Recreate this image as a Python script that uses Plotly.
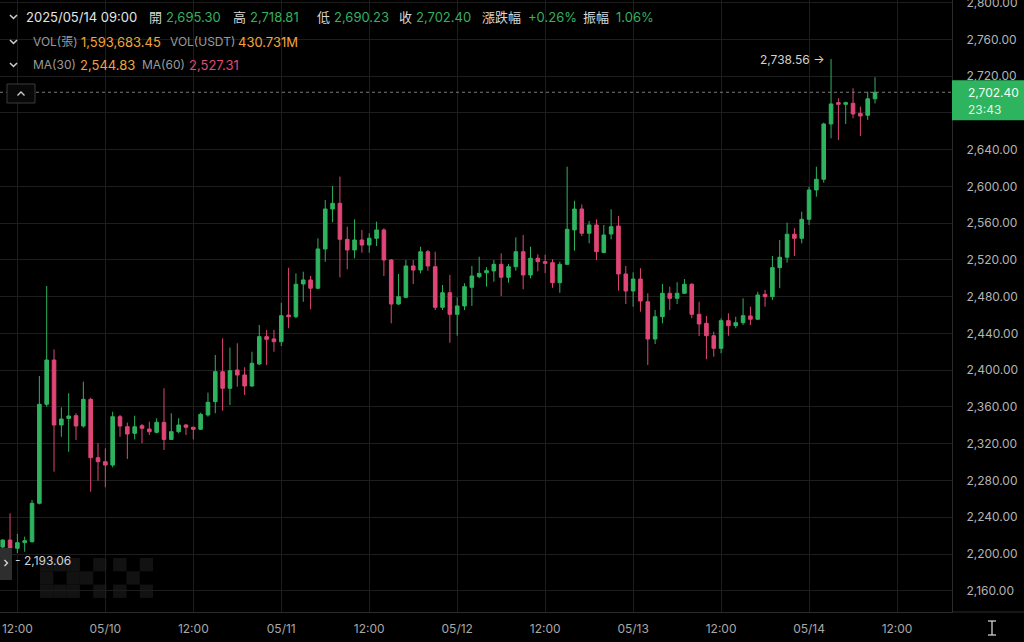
import plotly.graph_objects as go
import pandas as pd

# ---------------- data (ETH/USDT 1H) ----------------
start_time = "2025-05-09 10:00"
opens = [2207.6, 2215.2, 2206.2, 2212.3, 2213.4, 2255.2, 2362.9, 2411.1, 2340.4, 2347.5,
         2350.5, 2339.3, 2368.3, 2304.8, 2300.4, 2296.8, 2349.4, 2338.5, 2331.3, 2339.6,
         2336.0, 2332.4, 2343.3, 2324.7, 2333.1, 2340.4, 2337.9, 2335.7, 2351.3, 2365.8,
         2398.4, 2380.3, 2400.2, 2394.8, 2382.8, 2406.7, 2436.5, 2434.0, 2431.0, 2460.0,
         2458.2, 2493.8, 2498.2, 2489.2, 2531.9, 2575.4, 2581.6, 2542.4, 2530.8, 2541.7,
         2536.2, 2543.5, 2552.6, 2519.9, 2472.0, 2479.3, 2513.4, 2509.0, 2528.9, 2512.6,
         2468.4, 2484.3, 2460.8, 2469.9, 2490.2, 2501.8, 2506.0, 2508.0, 2515.2, 2501.1,
         2512.6, 2528.9, 2503.6, 2521.8, 2518.1, 2517.0, 2495.2, 2515.2, 2552.6, 2575.4,
         2549.0, 2558.0, 2528.0, 2548.2, 2556.9, 2504.7, 2486.2, 2499.2, 2474.5, 2433.9,
         2458.2, 2483.7, 2478.2, 2483.7, 2493.5, 2460.8, 2451.0, 2437.5, 2423.8, 2453.9,
         2448.4, 2451.7, 2459.0, 2455.4, 2482.5, 2480.0, 2511.6, 2522.9, 2547.9, 2543.5,
         2564.2, 2596.1, 2607.7, 2667.9, 2691.1, 2689.3, 2690.4, 2679.5, 2677.4, 2695.30]
highs = [2216.0, 2244.3, 2221.8, 2218.9, 2258.8, 2393.7, 2491.6, 2422.7, 2359.6, 2374.9,
         2353.1, 2387.5, 2370.0, 2320.5, 2315.0, 2354.8, 2351.3, 2343.0, 2350.5, 2341.5,
         2344.0, 2347.7, 2380.3, 2353.1, 2347.7, 2341.5, 2338.5, 2353.8, 2375.6, 2416.5,
         2434.7, 2424.6, 2429.3, 2403.2, 2420.1, 2449.2, 2443.7, 2443.7, 2473.4, 2511.5,
         2505.4, 2507.2, 2502.5, 2543.5, 2585.2, 2600.4, 2610.6, 2556.1, 2564.2, 2552.6,
         2549.0, 2561.6, 2554.4, 2521.0, 2504.7, 2519.9, 2519.9, 2534.3, 2530.8, 2528.9,
         2492.7, 2503.6, 2479.3, 2494.6, 2513.4, 2523.5, 2512.0, 2519.9, 2527.1, 2515.5,
         2544.6, 2547.1, 2534.3, 2526.1, 2525.7, 2520.7, 2518.1, 2621.4, 2584.4, 2580.3,
         2562.3, 2564.2, 2558.0, 2575.1, 2567.8, 2513.4, 2506.5, 2510.9, 2483.7, 2465.5,
         2493.8, 2490.9, 2495.7, 2499.2, 2494.6, 2474.5, 2459.0, 2441.9, 2456.5, 2461.9,
         2458.2, 2478.2, 2469.1, 2485.4, 2487.3, 2524.3, 2541.7, 2560.5, 2554.4, 2572.5,
         2599.7, 2621.4, 2669.3, 2738.56, 2695.9, 2692.2, 2706.8, 2686.7, 2703.1, 2718.81]
lows = [2205.0, 2193.06, 2201.1, 2202.5, 2212.3, 2254.0, 2360.3, 2289.6, 2327.6, 2311.3,
        2324.0, 2337.5, 2267.8, 2279.8, 2272.6, 2294.3, 2327.6, 2303.4, 2324.7, 2320.5,
        2329.5, 2331.3, 2313.2, 2324.0, 2331.3, 2329.5, 2324.7, 2334.9, 2349.4, 2353.1,
        2355.9, 2362.1, 2382.0, 2373.0, 2382.0, 2405.7, 2405.7, 2420.1, 2426.3, 2445.6,
        2456.5, 2474.5, 2466.3, 2488.0, 2518.0, 2561.0, 2501.1, 2509.8, 2521.8, 2527.9,
        2527.9, 2535.1, 2502.5, 2451.0, 2471.0, 2478.2, 2493.8, 2505.4, 2508.3, 2465.5,
        2465.5, 2429.9, 2437.5, 2465.5, 2469.9, 2500.0, 2490.9, 2496.3, 2480.7, 2495.2,
        2508.3, 2488.0, 2500.0, 2507.6, 2505.6, 2489.7, 2484.3, 2514.5, 2530.0, 2546.0,
        2538.0, 2519.9, 2527.3, 2542.4, 2486.5, 2472.0, 2469.1, 2463.7, 2405.7, 2428.5,
        2451.0, 2465.5, 2472.0, 2482.9, 2456.5, 2437.2, 2411.9, 2414.7, 2418.4, 2437.5,
        2445.6, 2449.2, 2449.2, 2454.6, 2469.1, 2476.4, 2489.2, 2517.0, 2524.3, 2538.0,
        2558.0, 2588.8, 2604.0, 2652.3, 2650.5, 2667.9, 2674.1, 2654.8, 2672.3, 2690.23]
closes = [2215.2, 2206.2, 2212.3, 2214.5, 2255.2, 2362.9, 2411.1, 2340.4, 2346.9, 2350.2,
          2339.3, 2368.3, 2304.8, 2300.4, 2296.8, 2349.4, 2339.3, 2330.6, 2338.5, 2336.8,
          2333.0, 2343.3, 2324.7, 2333.1, 2340.4, 2337.9, 2335.7, 2352.0, 2365.1, 2398.4,
          2380.3, 2399.5, 2394.8, 2382.8, 2407.5, 2436.5, 2433.6, 2431.0, 2459.3, 2458.2,
          2493.5, 2498.2, 2489.2, 2531.9, 2575.4, 2581.6, 2542.4, 2530.8, 2541.7, 2536.2,
          2543.5, 2552.6, 2519.9, 2472.0, 2480.0, 2513.4, 2509.0, 2528.9, 2513.4, 2468.4,
          2484.3, 2460.8, 2469.9, 2490.9, 2502.5, 2505.4, 2508.3, 2515.2, 2501.1, 2512.6,
          2528.9, 2503.6, 2521.8, 2518.1, 2516.3, 2495.2, 2515.2, 2553.3, 2575.4, 2549.0,
          2558.0, 2529.0, 2547.1, 2556.1, 2504.7, 2486.2, 2499.2, 2475.3, 2433.9, 2458.2,
          2483.7, 2478.2, 2483.7, 2493.5, 2460.8, 2450.3, 2437.5, 2423.8, 2453.9, 2448.4,
          2451.7, 2459.3, 2455.4, 2481.8, 2480.0, 2511.6, 2522.9, 2547.9, 2543.5, 2564.2,
          2596.1, 2607.7, 2667.9, 2689.7, 2689.3, 2691.1, 2678.8, 2676.6, 2695.3, 2702.40]

x_tick_vals = list(pd.date_range("2025-05-09 12:00", "2025-05-14 12:00", freq="12h"))
x_tick_text = ["12:00", "05/10", "12:00", "05/11", "12:00", "05/12",
               "12:00", "05/13", "12:00", "05/14", "12:00"]
y_tick_vals = list(range(2160, 2801, 40))
# the 2,680.00 label sits under the live-price tag and is not visible
y_tick_text = ["" if v == 2680 else f"{v:,.2f}" for v in y_tick_vals]

# (text, colour, left x px, font size)
header_line1 = [("2025/05/14 09:00", "#e4e4e4", 24, 13), ("開", "#d6d6d6", 147, 13),
                ("2,695.30", "#35b060", 164, 13), ("高", "#d6d6d6", 231, 13),
                ("2,718.81", "#35b060", 248, 13), ("低", "#d6d6d6", 315, 13),
                ("2,690.23", "#35b060", 332, 13), ("收", "#d6d6d6", 397, 13),
                ("2,702.40", "#35b060", 414, 13), ("漲跌幅", "#d6d6d6", 480, 13),
                ("+0.26%", "#35b060", 526, 13), ("振幅", "#d6d6d6", 581, 13),
                ("1.06%", "#35b060", 614, 13)]
header_line2 = [("VOL(張)", "#9a9a9a", 31, 12), ("1,593,683.45", "#f0a53c", 79, 13),
                ("VOL(USDT)", "#9a9a9a", 168, 12), ("430.731M", "#f0a53c", 236, 13)]
header_line3 = [("MA(30)", "#9a9a9a", 31, 12), ("2,544.83", "#f0a53c", 78, 13),
                ("MA(60)", "#9a9a9a", 140, 12), ("2,527.31", "#e0487a", 187, 13)]
countdown = "23:43"

# ---------------- styling ----------------
FONT = "Inter, 'Noto Sans CJK TC', 'Noto Sans', sans-serif"
UP = "#2eb35e"
DOWN = "#df4676"
GRID = "#1d1d1d"
AXLINE = "#2c2c2c"
W, H = 1024, 642
ML, MR, MT, MB = 0, 72, 0, 30
PW, PH = W - ML - MR, H - MT - MB
Y_RANGE = [2136.9, 2802.8]


def px(x):
    return (x - ML) / PW


def py(y):
    return 1 - (y - MT) / PH


times = pd.date_range(start_time, periods=len(opens), freq="h")
hour = pd.Timedelta(hours=1)

fig = go.Figure(go.Candlestick(
    x=times, open=opens, high=highs, low=lows, close=closes,
    increasing=dict(line=dict(color=UP, width=1), fillcolor=UP),
    decreasing=dict(line=dict(color=DOWN, width=1), fillcolor=DOWN),
    whiskerwidth=0, hoverinfo="skip",
))

annotations = []
shapes = []

# header rows
for row, yy in ((header_line1, 17), (header_line2, 42), (header_line3, 65)):
    for txt, col, xx, fs in row:
        annotations.append(dict(xref="paper", yref="paper", x=px(xx), y=py(yy), xanchor="left",
                                yanchor="middle", text=txt, showarrow=False,
                                font=dict(family=FONT, size=fs, color=col)))
    shapes.append(dict(type="path", xref="paper", yref="paper",
                       path=f"M {px(10)} {py(yy-2)} L {px(13.5)} {py(yy+1.5)} L {px(17)} {py(yy-2)}",
                       line=dict(color="#cfcfcf", width=1.5)))

# current price dotted line and tag
last = closes[-1]
last_frac = (last - Y_RANGE[0]) / (Y_RANGE[1] - Y_RANGE[0])
shapes.append(dict(type="line", xref="paper", yref="y", x0=0, x1=1, y0=last, y1=last,
                   line=dict(color="#7a7a7a", width=1, dash="dot")))
shapes.append(dict(type="rect", xref="paper", yref="paper", x0=1, x1=px(W),
                   y0=last_frac - 28 / PH, y1=last_frac + 12 / PH,
                   line=dict(width=0), fillcolor=UP))
annotations.append(dict(xref="paper", yref="paper", x=px(966), y=last_frac, xanchor="left",
                        yanchor="middle", text=f"{last:,.2f}", showarrow=False,
                        font=dict(family=FONT, size=12, color="#f0fff4")))
annotations.append(dict(xref="paper", yref="paper", x=px(966), y=last_frac - 17 / PH, xanchor="left",
                        yanchor="middle", text=countdown, showarrow=False,
                        font=dict(family=FONT, size=12, color="#dcf7e4")))

# collapse button on the price line
shapes.append(dict(type="rect", xref="paper", yref="paper", x0=px(7), x1=px(35), y0=py(84), y1=py(103),
                   line=dict(color="#3a3a3a", width=1), fillcolor="#080808"))
shapes.append(dict(type="path", xref="paper", yref="paper",
                   path=f"M {px(17.5)} {py(95.5)} L {px(21)} {py(92)} L {px(24.5)} {py(95.5)}",
                   line=dict(color="#d0d0d0", width=1.3)))

# max / min labels
i_hi = max(range(len(highs)), key=lambda i: highs[i])
i_lo = min(range(len(lows)), key=lambda i: lows[i])
annotations.append(dict(x=times[i_hi], y=highs[i_hi], xref="x", yref="y", xanchor="right",
                        yanchor="middle", xshift=-4, text=f"{highs[i_hi]:,.2f} →", showarrow=False,
                        font=dict(family=FONT, size=12, color="#d2d2d2")))
annotations.append(dict(x=times[i_lo], y=lows[i_lo], xref="x", yref="y", xanchor="left",
                        yanchor="middle", xshift=3, text=f"- {lows[i_lo]:,.2f}", showarrow=False,
                        font=dict(family=FONT, size=12, color="#d2d2d2")))

# left expand tab
shapes.append(dict(type="rect", xref="paper", yref="paper", x0=px(0), x1=px(12), y0=py(548), y1=py(580),
                   line=dict(width=0), fillcolor="#2e2e2e"))
shapes.append(dict(type="path", xref="paper", yref="paper",
                   path=f"M {px(4.5)} {py(560)} L {px(7.5)} {py(563)} L {px(4.5)} {py(566)}",
                   line=dict(color="#e0e0e0", width=1.2)))

# faint OKX watermark (pixel-block logo)
bs = 13.3
blocks = [(0, 0), (1, 0), (2, 0), (0, 1), (2, 1), (0, 2), (1, 2), (2, 2),   # O
          (4, 0), (3, 1), (4, 2),                                          # K
          (5.5, 0), (7.5, 0), (6.5, 1), (5.5, 2), (7.5, 2)]                  # X
for cx, cy in blocks:
    x0 = 40 + cx * bs
    y0 = 558 + cy * bs
    shapes.append(dict(type="rect", xref="paper", yref="paper", layer="below",
                       x0=px(x0), x1=px(x0 + bs), y0=py(y0), y1=py(y0 + bs),
                       line=dict(width=0), fillcolor="#121212"))

# axis line extension under the price axis + corner icon
shapes.append(dict(type="line", xref="paper", yref="paper", x0=1, x1=px(W), y0=0, y1=0,
                   line=dict(color=AXLINE, width=1)))
for seg in ((992, 621, 992, 635), (988, 621, 996, 621), (988, 635, 996, 635)):
    shapes.append(dict(type="line", xref="paper", yref="paper", x0=px(seg[0]), y0=py(seg[1]),
                       x1=px(seg[2]), y1=py(seg[3]), line=dict(color="#d0d0d0", width=1.3)))

fig.update_layout(
    width=W, height=H,
    paper_bgcolor="#000000", plot_bgcolor="#000000",
    margin=dict(l=ML, r=MR, t=MT, b=MB, autoexpand=False),
    showlegend=False, hovermode=False,
    font=dict(family=FONT, color="#b0b0b0"),
    xaxis=dict(type="date", range=[times[0] - 0.37 * hour, times[0] + 129.5 * hour],
               rangeslider=dict(visible=False), tickvals=x_tick_vals, ticktext=x_tick_text,
               showgrid=True, gridcolor=GRID, gridwidth=1, zeroline=False, automargin=False,
               showline=True, linecolor=AXLINE, linewidth=1,
               ticks="outside", ticklen=6, tickcolor="rgba(0,0,0,0)",
               tickfont=dict(family=FONT, size=12, color="#a8a8a8")),
    yaxis=dict(side="right", range=Y_RANGE, tickvals=y_tick_vals, ticktext=y_tick_text,
               showgrid=True, gridcolor=GRID, gridwidth=1, zeroline=False, automargin=False,
               showline=True, linecolor=AXLINE, linewidth=1,
               ticks="outside", ticklen=11, tickcolor="rgba(0,0,0,0)",
               ticklabeloverflow="allow",
               tickfont=dict(family=FONT, size=12, color="#b4b4b4")),
    annotations=annotations, shapes=shapes,
)

fig.write_html("out.html", config={"displayModeBar": False},
               post_script="document.body.style.margin='0';document.body.style.background='#000';")
